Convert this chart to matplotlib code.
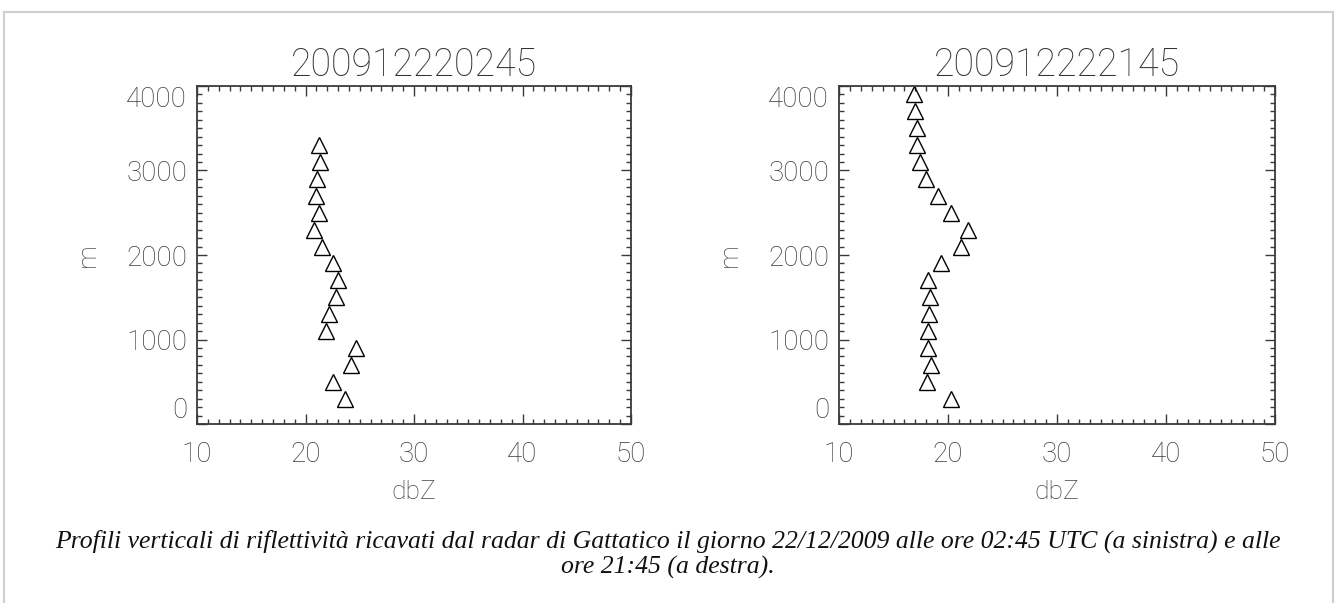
import matplotlib
matplotlib.use("Agg")
import matplotlib.pyplot as plt
from matplotlib.ticker import MultipleLocator
from matplotlib.lines import Line2D

# ---- data ----
titles = ["200912220245", "200912222145"]

heights_left = [3300, 3100, 2900, 2700, 2500, 2300, 2100, 1900, 1700, 1500,
                1300, 1100, 900, 700, 500, 300]
dbz_left = [21.2, 21.35, 21.1, 20.95, 21.2, 20.8, 21.55, 22.5, 23.0, 22.8,
            22.15, 21.85, 24.65, 24.2, 22.5, 23.6]

heights_right = [3900, 3700, 3500, 3300, 3100, 2900, 2700, 2500, 2300, 2100,
                 1900, 1700, 1500, 1300, 1100, 900, 700, 500, 300]
dbz_right = [16.9, 17.0, 17.15, 17.15, 17.45, 18.0, 19.1, 20.3, 21.85, 21.15,
             19.4, 18.15, 18.35, 18.3, 18.2, 18.15, 18.45, 18.1, 20.3]

xticks = [10, 20, 30, 40, 50]
yticks = [0, 1000, 2000, 3000, 4000]
xlabel = "dbZ"
ylabel = "m"
caption1 = ("Profili verticali di riflettività ricavati dal radar di Gattatico il giorno "
            "22/12/2009 alle ore 02:45 UTC (a sinistra) e alle")
caption2 = "ore 21:45 (a destra)."

W, H = 1336, 603
fig = plt.figure(figsize=(W / 100, H / 100), dpi=100)
fig.patch.set_facecolor("white")

# light border box
border = "#cfcfcf"
fig.add_artist(Line2D([4 / W, 1333 / W], [1 - 12 / H, 1 - 12 / H],
                      transform=fig.transFigure, color=border, lw=1.5))
fig.add_artist(Line2D([4 / W, 4 / W], [0, 1 - 12 / H],
                      transform=fig.transFigure, color=border, lw=1.5))
fig.add_artist(Line2D([1333 / W, 1333 / W], [0, 1 - 12 / H],
                      transform=fig.transFigure, color=border, lw=1.5))

txtfont = dict(family=["Roboto", "DejaVu Sans"], weight="light")
axcol = "#3a3a3a"

def make_axes(left_px, right_px, title, xs, ys):
    ax = fig.add_axes([left_px / W, (H - 424) / H, (right_px - left_px) / W, (424 - 86) / H])
    ax.plot(xs, ys, linestyle="none", marker="^", markersize=11.5,
            markerfacecolor="none", markeredgecolor="black", markeredgewidth=1.0)
    ax.set_xlim(10, 50)
    ax.set_ylim(0, 4000)
    ax.set_xticks(xticks)
    ax.set_yticks(yticks)
    ax.xaxis.set_minor_locator(MultipleLocator(1))
    ax.yaxis.set_minor_locator(MultipleLocator(100))
    ax.tick_params(which="both", direction="in", top=True, right=True, color=axcol, width=1.0)
    ax.tick_params(which="major", length=7)
    ax.tick_params(which="minor", length=3.5)
    ax.tick_params(axis="x", which="major", pad=12)
    ax.tick_params(axis="y", which="major", pad=7)
    for lab in ax.get_xticklabels() + ax.get_yticklabels():
        lab.set_fontsize(20)
        lab.set_fontfamily(txtfont["family"])
        lab.set_fontweight("light")
        lab.set_color("#3a3a3a")
    ylabs = ax.get_yticklabels()
    ylabs[0].set_verticalalignment("bottom")
    ylabs[-1].set_verticalalignment("top")
    for sp in ax.spines.values():
        sp.set_color(axcol)
        sp.set_linewidth(1.3)
    ax.set_title(title, fontsize=27, color="#333333", pad=7, **txtfont)
    ax.set_xlabel(xlabel, fontsize=19, color="#444444", labelpad=9, **txtfont)
    ax.set_ylabel(ylabel, fontsize=19, color="#444444", labelpad=19, **txtfont)
    return ax

make_axes(197, 631, titles[0], dbz_left, heights_left)
make_axes(839, 1275, titles[1], dbz_right, heights_right)

capfont = dict(family=["Liberation Serif", "DejaVu Serif"], style="italic",
               fontsize=18.5, color="#111111", ha="center", va="center")
fig.text(668 / W, 1 - 541 / H, caption1, **capfont)
fig.text(668 / W, 1 - 567 / H, caption2, **capfont)

fig.savefig("out.png", dpi=100)
